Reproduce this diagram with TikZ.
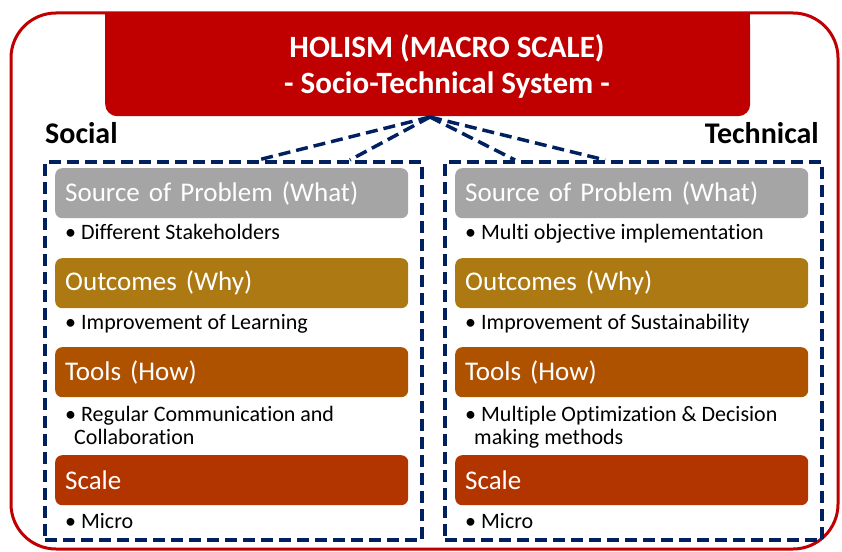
\documentclass[tikz,border=0pt]{standalone}
\usepackage{fontspec}
\setmainfont{Carlito}[Ligatures=NoCommon]
\definecolor{holred}{RGB}{192,0,0}
\definecolor{navy}{RGB}{0,32,96}
\definecolor{srcgray}{RGB}{165,165,165}
\definecolor{outgold}{RGB}{173,121,18}
\definecolor{toolbrown}{RGB}{174,82,0}
\definecolor{scalered}{RGB}{178,53,0}

\tikzset{
	colbox/.style = {draw = navy, line width = 3.5pt, dash pattern = on 12pt off 6pt,
		minimum width = 377pt, minimum height = 378pt, anchor = north west, inner sep = 0pt},
	hdr/.style = {rounded corners = 7pt, minimum height = 50pt, text width = 333pt,
		inner xsep = 10pt, inner ysep = 0pt, align = left, anchor = north west,
		text = white, font = \fontsize{27}{30}\selectfont},
	item/.style = {anchor = base west, inner sep = 0pt, align = left,
		font = \fontsize{22}{23}\selectfont},
	side/.style = {inner sep = 0pt, font = \fontsize{30}{32}\selectfont\bfseries},
	headline/.style = {inner sep = 0pt, anchor = base, text = white,
		font = \fontsize{31}{34}\selectfont\bfseries}
}
\newcommand{\bul}{\textbullet\hspace{5pt}}

\begin{document}
\begin{tikzpicture}[x = 1pt, y = -1pt]
	\useasboundingbox (0,0) rectangle (842,551);

	% outer frame and title
	\draw[holred, line width = 3pt, rounded corners = 45pt] (11,13) rectangle (838,549);
	\node[fill = holred, rounded corners = 12pt, minimum width = 645pt, minimum height = 103pt,
		anchor = north west, inner sep = 0pt] (title) at (105,13) {};
	\fill[holred] (105,12) rectangle (750,30);
	\node[headline] (titleA) at (447,57) {HOLISM (MACRO SCALE)};
	\node[headline] (titleB) at (447,93) {- Socio-Technical System -};

	\node[side, anchor = base west] (social) at (45,143) {Social};
	\node[side, anchor = base east] (technical) at (819,143) {Technical};

	% the two columns
	\node[colbox] (soc) at (43,160) {};
	\node[colbox] (tec) at (443,160) {};

	\coordinate (hub) at (430,117);
	\coordinate (socA) at (258,160);
	\coordinate (socB) at (350,160);
	\coordinate (tecA) at (515,160);
	\coordinate (tecB) at (605,160);
	\draw[navy, line width = 3.5pt, dash pattern = on 12pt off 6pt]
		(hub) -- (socA)
		(hub) -- (socB)
		(hub) -- (tecA)
		(hub) -- (tecB);

	% social
	\node[hdr, fill = srcgray] (socsrc) at (55,168) {Source of Problem (What)};
	\node[item] (socsrcI) at (65,239) {\bul Different Stakeholders};
	\node[hdr, fill = outgold] (socout) at (55,258) {Outcomes (Why)};
	\node[item] (socoutI) at (65,329) {\bul Improvement of Learning};
	\node[hdr, fill = toolbrown] (soctool) at (55,347) {Tools (How)};
	\node[item] (soctoolI) at (65,444) {\bul Regular Communication and\\\hspace{9pt}Collaboration};
	\node[hdr, fill = scalered] (socscale) at (55,455) {Scale};
	\node[item] (socscaleI) at (65,528) {\bul Micro};

	% technical
	\node[hdr, fill = srcgray] (tecsrc) at (455,168) {Source of Problem (What)};
	\node[item] (tecsrcI) at (465,239) {\bul Multi objective implementation};
	\node[hdr, fill = outgold] (tecout) at (455,258) {Outcomes (Why)};
	\node[item] (tecoutI) at (465,329) {\bul Improvement of Sustainability};
	\node[hdr, fill = toolbrown] (tectool) at (455,347) {Tools (How)};
	\node[item] (tectoolI) at (465,444) {\bul Multiple Optimization \& Decision\\\hspace{9pt}making methods};
	\node[hdr, fill = scalered] (tecscale) at (455,455) {Scale};
	\node[item] (tecscaleI) at (465,528) {\bul Micro};
\end{tikzpicture}
\end{document}
